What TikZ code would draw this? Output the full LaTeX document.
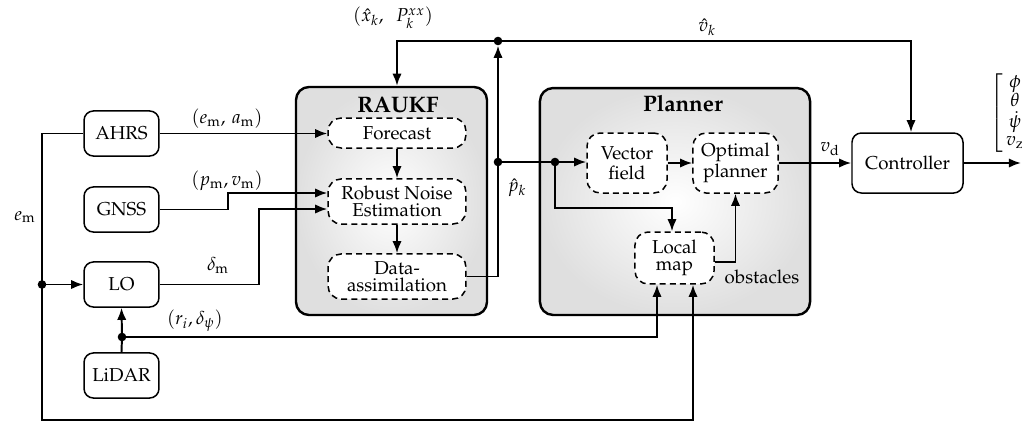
\documentclass[tikz,border=0pt]{standalone}
\usepackage[T1]{fontenc}
\usepackage{mathpazo}
\usepackage{amsmath}
\usetikzlibrary{arrows.meta,calc}
\begin{document}
\begin{tikzpicture}[x=0.535pt,y=-0.535pt,
  every node/.style={font=\fontsize{10}{11}\selectfont},
  arr/.style={line width=1.05pt,-{Latex[length=6.5pt,width=5pt]}},
  ln/.style={line width=1.05pt},
  blk/.style={draw,line width=0.8pt,rounded corners=5pt,fill=white,inner sep=0pt,align=center,minimum width=40.1pt,minimum height=24.1pt},
  sub/.style={draw,dash pattern=on 3.2pt off 2.2pt,line width=0.8pt,rounded corners=7pt,fill=white,inner sep=0pt,align=center},
  grp/.style={draw,line width=1.3pt,rounded corners=7pt,inner sep=0pt,shading=radial,inner color=white,outer color=gray!25},
  ttl/.style={font=\fontsize{12}{13}\selectfont\bfseries},
  dot/.style={circle,fill=black,inner sep=0pt,minimum size=4.6pt},
  lbl/.style={inner sep=1pt}]
\useasboundingbox (0,0) rectangle (1022,422);
% group boxes
\node[grp,minimum width=102.2pt,minimum height=122pt] (RAUKF) at (391.5,201) {};
\node[grp,minimum width=144.5pt,minimum height=121.4pt] (Planner) at (675,201.5) {};
\node[ttl] (tR) at (398,105) {RAUKF};
\node[ttl] (tP) at (683,104) {Planner};
% sensors
\node[blk] (AHRS) at (121.5,133.5) {AHRS};
\node[blk] (GNSS) at (121.5,209.5) {GNSS};
\node[blk] (LO) at (121.5,284.5) {LO};
\node[blk] (LiDAR) at (121.5,375.5) {LiDAR};
% RAUKF sub-blocks
\node[sub,minimum width=73.8pt,minimum height=16.05pt] (Forecast) at (397,133) {Forecast};
\node[sub,minimum width=73.8pt,minimum height=24.1pt] (RNE) at (397,201.5) {Robust Noise\\[-2pt]Estimation};
\node[sub,minimum width=73.8pt,minimum height=24.1pt] (DA) at (397,276.5) {Data-\\[-2pt]assimilation};
% planner sub-blocks
\node[sub,minimum width=42.8pt,minimum height=32.1pt] (Vector) at (627,163) {Vector\\field};
\node[sub,minimum width=45.5pt,minimum height=32.1pt] (Optimal) at (735.5,163) {Optimal\\planner};
\node[sub,minimum width=42.3pt,minimum height=27.8pt] (Local) at (674.5,258) {Local\\[-2pt]map};
\node[blk,minimum width=59.4pt,minimum height=32.1pt] (Controller) at (907.5,163) {Controller};
% junctions
\node[dot] (J1) at (498,41) {};
\node[dot] (J2) at (498,162) {};
\node[dot] (J3) at (555,162) {};
\node[dot] (J4) at (122,337) {};
\node[dot] (J5) at (42,284.5) {};
\coordinate (out) at (1021,163);
% connectors
\draw[arr] (AHRS.east) -- (Forecast.west |- AHRS.east);
\draw[arr] (GNSS.east) -- (228,209.5) |- ($(RNE.west)+(0,-8.5)$);
\draw[arr] (LO.east) -- (259,284.5) |- ($(RNE.west)+(0,7.5)$);
\draw[arr] (Forecast.south) -- (RNE.north);
\draw[arr] (RNE.south) -- (DA.north);
\draw[arr] (DA.east) -| (J1.south);
\draw[arr] (J1.center) -| (Forecast.north |- RAUKF.north);
\draw[arr] (J1.center) -| ($(Controller.north)+(3.5,0)$);
\draw[arr] (J2.center) -- (Vector.west |- J2);
\draw[arr] (J3.center) -- (555,208) -| ($(Local.north)+(-2.5,0)$);
\draw[arr] (Vector.east) -- (Optimal.west);
\draw[arr] (Optimal.east) -- (Controller.west);
\draw[arr] (Controller.east) -- (out);
\draw[arr] ($(Local.east)+(0,4)$) -| (Optimal.south);
\draw[ln] (LiDAR.north) -- (J4.center);
\draw[arr] (J4.center) -- (LO.south);
\draw[arr] (J4.center) -| ($(Local.south)+(-17.5,0)$);
\draw[arr] (AHRS.west) -- (42,133.5) -- (42,420) -| ($(Local.south)+(18.5,0)$);
\draw[arr] (J5.center) -- (LO.west);
% labels
\node[lbl] (l1) at (393,18) {$(\hat{x}_k,\ \ P_k^{xx})$};
\node[lbl] (l2) at (707,27) {$\hat{v}_k$};
\node[lbl] (l3) at (517,188) {$\hat{p}_k$};
\node[lbl] (l4) at (227,119) {$(e_\mathrm{m},\, a_\mathrm{m})$};
\node[lbl] (l5) at (227,181) {$(p_\mathrm{m}, v_\mathrm{m})$};
\node[lbl] (l6) at (218,265) {$\delta_\mathrm{m}$};
\node[lbl] (l7) at (25,217) {$e_\mathrm{m}$};
\node[lbl] (l8) at (195,321) {$(r_i, \delta_\psi)$};
\node[lbl] (l9) at (830,149) {$v_\mathrm{d}$};
\node[lbl] (l10) at (762,277) {obstacles};
\node[lbl,anchor=west,inner sep=0pt] (l11) at (990,113) {$\setlength\arraycolsep{1.5pt}\renewcommand\arraystretch{0.9}\left[\begin{array}{c}\phi\\\theta\\\dot\psi\\v_\mathrm{z}\end{array}\right.$};
\end{tikzpicture}
\end{document}
